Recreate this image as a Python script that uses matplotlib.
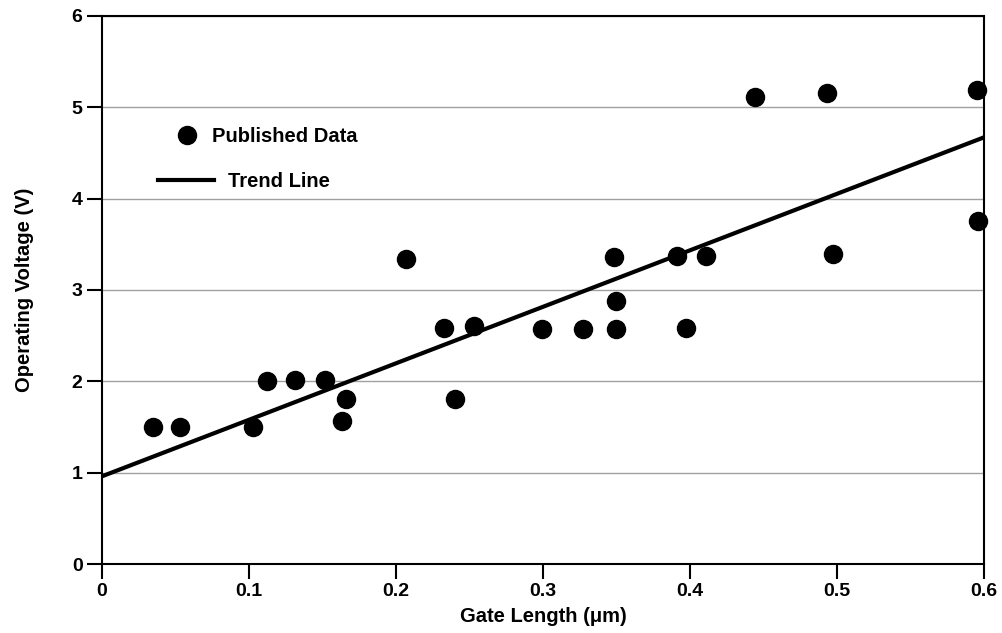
import matplotlib
matplotlib.use("Agg")
import matplotlib.pyplot as plt

plt.rcParams['font.family'] = ['Liberation Sans', 'DejaVu Sans']
plt.rcParams['font.weight'] = 'bold'

# published data
gate_length = [0.035, 0.053, 0.103, 0.112, 0.131, 0.152, 0.163, 0.166, 0.207, 0.233,
               0.240, 0.253, 0.299, 0.327, 0.348, 0.350, 0.350, 0.391, 0.397, 0.411,
               0.444, 0.493, 0.497, 0.595, 0.596]
voltage = [1.50, 1.50, 1.50, 2.00, 2.01, 2.01, 1.57, 1.81, 3.34, 2.58,
           1.81, 2.60, 2.57, 2.57, 3.36, 2.88, 2.57, 3.37, 2.58, 3.37,
           5.11, 5.15, 3.39, 5.19, 3.75]

# trend line end points
trend_x = [0.0, 0.6]
trend_y = [0.96, 4.67]

fig = plt.figure(figsize=(10.02, 6.33), dpi=100)
ax = fig.add_axes([0.1018, 0.109, 0.8802, 0.866])

pts, = ax.plot(gate_length, voltage, 'o', color='black', markersize=13,
               zorder=3, clip_on=False)
trend, = ax.plot(trend_x, trend_y, '-', color='black', linewidth=3, zorder=3)

ax.set_xlim(0, 0.6)
ax.set_ylim(0, 6)
ax.set_xticks([0, 0.1, 0.2, 0.3, 0.4, 0.5, 0.6])
ax.set_xticklabels(['0', '0.1', '0.2', '0.3', '0.4', '0.5', '0.6'])
ax.set_yticks(range(7))
ax.yaxis.grid(True, color='#a0a0a0', linewidth=1)
ax.set_axisbelow(True)

for s in ax.spines.values():
    s.set_linewidth(1.5)
ax.tick_params(axis='both', direction='out', length=11, width=1.5, labelsize=14, pad=3)
ax.tick_params(axis='x', top=False)
ax.tick_params(axis='y', right=False)

ax.set_xlabel('Gate Length (μm)', fontsize=14.5, fontweight='bold', labelpad=5)
ax.set_ylabel('Operating Voltage (V)', fontsize=14.5, fontweight='bold', labelpad=27)

# two separate legend entries, the way the original places them
leg1 = ax.legend([pts], ['Published Data'], loc='center left', bbox_to_anchor=(0.085, 0.779),
                 frameon=False, fontsize=14.5, handlelength=1.0, handletextpad=0.75,
                 borderpad=0, borderaxespad=0)
ax.add_artist(leg1)
ax.legend([trend], ['Trend Line'], loc='center left', bbox_to_anchor=(0.0635, 0.697),
          frameon=False, fontsize=14.5, handlelength=2.79, handletextpad=0.7,
          borderpad=0, borderaxespad=0)

fig.savefig('out.png', dpi=100)
